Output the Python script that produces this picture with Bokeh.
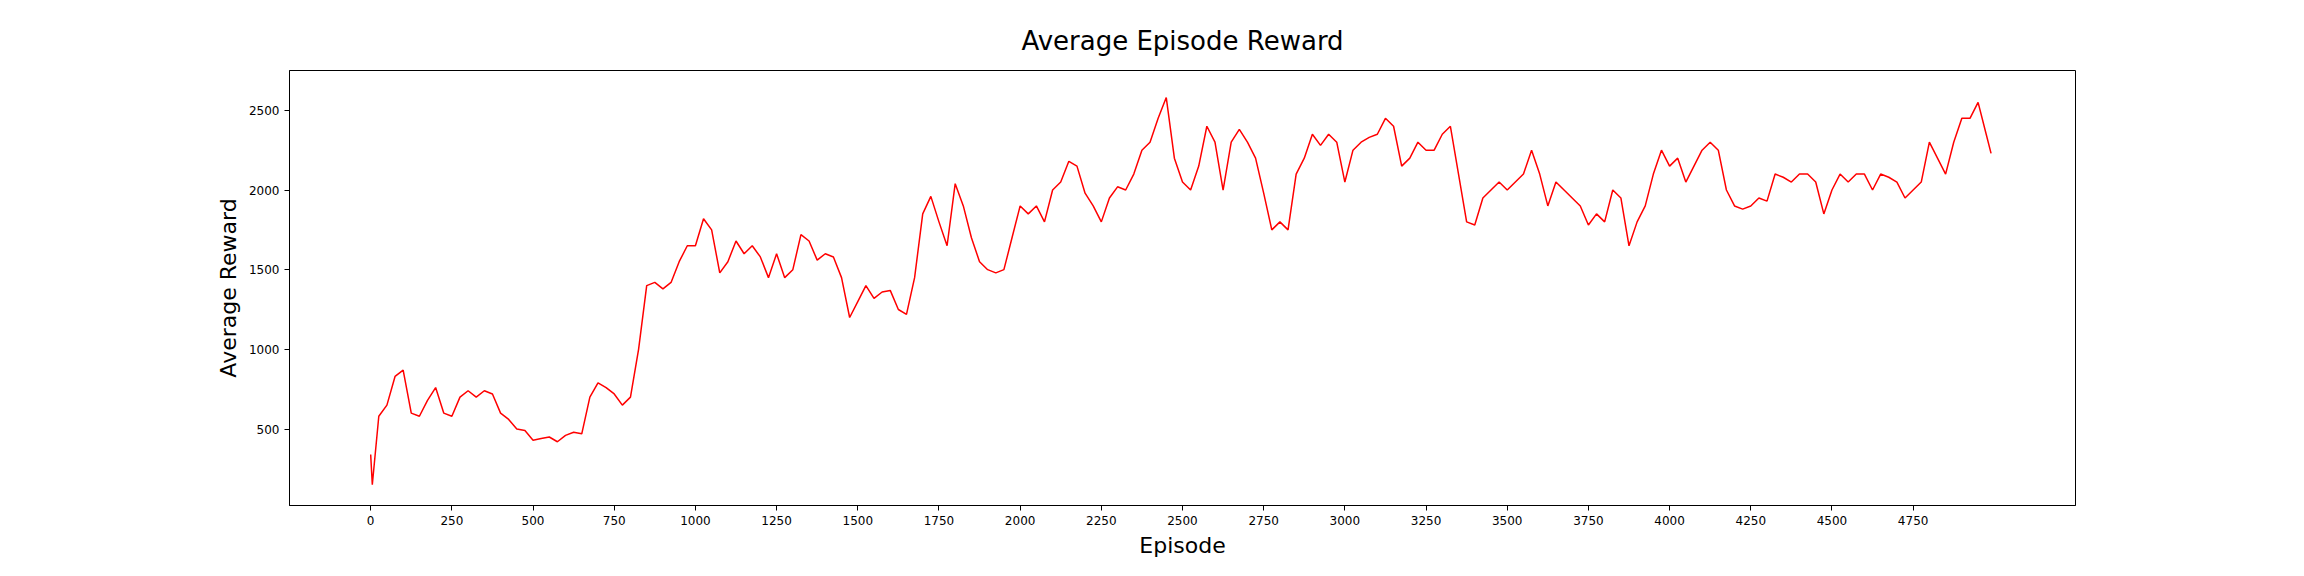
from bokeh.plotting import figure
from bokeh.models import Range1d, FixedTicker, Title
from bokeh.embed import file_html
from bokeh.resources import INLINE

episodes = [0, 5] + list(range(25, 5000, 25)) + [4990]
rewards = [
    340, 150, 580, 650, 830, 870, 600, 580, 680, 760, 600,
    580, 700, 740, 700, 740, 720, 600, 560, 500, 490,
    430, 440, 450, 420, 460, 480, 470, 700, 790, 760,
    720, 650, 700, 1000, 1400, 1420, 1380, 1420, 1550, 1650,
    1650, 1820, 1750, 1480, 1550, 1680, 1600, 1650, 1580, 1450,
    1600, 1450, 1500, 1720, 1680, 1560, 1600, 1580, 1450, 1200,
    1300, 1400, 1320, 1360, 1370, 1250, 1220, 1450, 1850, 1960,
    1800, 1650, 2040, 1900, 1700, 1550, 1500, 1480, 1500, 1700,
    1900, 1850, 1900, 1800, 2000, 2050, 2180, 2150, 1980, 1900,
    1800, 1950, 2020, 2000, 2100, 2250, 2300, 2450, 2580, 2200,
    2050, 2000, 2150, 2400, 2300, 2000, 2300, 2380, 2300, 2200,
    1980, 1750, 1800, 1750, 2100, 2200, 2350, 2280, 2350, 2300,
    2050, 2250, 2300, 2330, 2350, 2450, 2400, 2150, 2200, 2300,
    2250, 2250, 2350, 2400, 2100, 1800, 1780, 1950, 2000, 2050,
    2000, 2050, 2100, 2250, 2100, 1900, 2050, 2000, 1950, 1900,
    1780, 1850, 1800, 2000, 1950, 1650, 1800, 1900, 2100, 2250,
    2150, 2200, 2050, 2150, 2250, 2300, 2250, 2000, 1900, 1880,
    1900, 1950, 1930, 2100, 2080, 2050, 2100, 2100, 2050, 1850,
    2000, 2100, 2050, 2100, 2100, 2000, 2100, 2080, 2050, 1950,
    2000, 2050, 2300, 2200, 2100, 2300, 2450, 2450, 2550, 2350,
    2230,
]
x_ticks = list(range(0, 5000, 250))
y_ticks = [500, 1000, 1500, 2000, 2500]

p = figure(width=2288, height=560, output_backend="svg", toolbar_location=None,
           x_range=Range1d(-250, 5250), y_range=Range1d(20, 2750),
           min_border_left=289, min_border_right=213, min_border_top=70, min_border_bottom=55,
           x_axis_label="Episode", y_axis_label="Average Reward")
p.add_layout(Title(text="Average Episode Reward", align="center", text_font_size="26px",
                   text_font="DejaVu Sans", text_font_style="normal", text_color="black",
                   offset=-30, standoff=30), "above")
p.line(episodes, rewards, color="red", line_width=1.5)

p.xgrid.visible = False
p.ygrid.visible = False
p.outline_line_color = "black"
p.xaxis.ticker = FixedTicker(ticks=x_ticks)
p.yaxis.ticker = FixedTicker(ticks=y_ticks)
for ax in (p.xaxis[0], p.yaxis[0]):
    ax.major_label_text_font = "DejaVu Sans"
    ax.major_label_text_font_size = "12px"
    ax.major_label_text_color = "black"
    ax.axis_label_text_font = "DejaVu Sans"
    ax.axis_label_text_font_size = "22px"
    ax.axis_label_text_font_style = "normal"
    ax.axis_label_text_color = "black"
    ax.minor_tick_line_color = None
    ax.major_tick_in = 0
    ax.major_tick_out = 5
    ax.axis_line_color = "black"

open("out.html", "w").write(file_html(p, INLINE))
